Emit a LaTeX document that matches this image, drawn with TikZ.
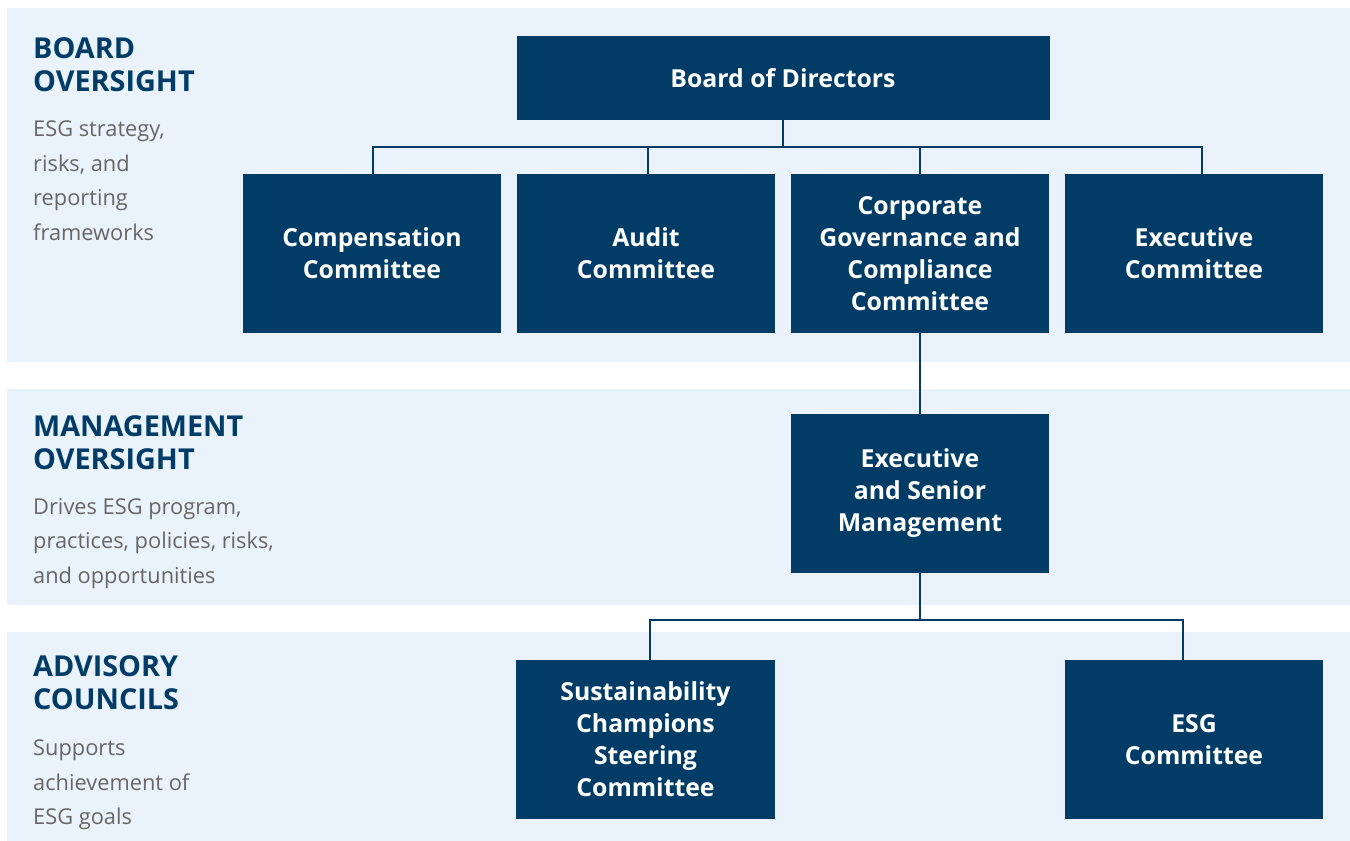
\documentclass[tikz,border=0pt]{standalone}
\usepackage{fontspec}
\setmainfont{Open Sans}
\definecolor{navy}{HTML}{003C66}
\definecolor{band}{HTML}{EAF3FB}
\definecolor{graytxt}{HTML}{666666}
\begin{document}
\begin{tikzpicture}[x=1pt,y=-1pt,
 box/.style={fill=navy, text=white, font=\bfseries\fontsize{24.8}{32}\selectfont, align=center, inner sep=0pt},
 conn/.style={draw=navy, line width=2.4pt},
 ttl/.style={text=navy, font=\bfseries\fontsize{28.8}{33}\selectfont, align=left, anchor=north west, inner sep=0pt},
 desc/.style={text=graytxt, font=\fontsize{21.8}{34.5}\selectfont, align=left, anchor=north west, inner sep=0pt}]
\useasboundingbox (0,0) rectangle (1350,841);
\fill[band] (7,8) rectangle (1350,362);
\fill[band] (7,389) rectangle (1350,605);
\fill[band] (7,632) rectangle (1350,841);
% section labels
\node[ttl] (t1) at (33,37) {BOARD\\OVERSIGHT};
\node[desc] (d1) at (33,121) {ESG strategy,\\risks, and\\reporting\\frameworks};
\node[ttl] (t2) at (33,415) {MANAGEMENT\\OVERSIGHT};
\node[desc] (d2) at (33,498) {Drives ESG program,\\practices, policies, risks,\\and opportunities};
\node[ttl] (t3) at (33,655) {ADVISORY\\COUNCILS};
\node[desc] (d3) at (33,740) {Supports\\achievement of\\ESG goals};
% boxes
\node[box, minimum width=533, minimum height=84] (bod) at (783,78) {Board of Directors};
\node[box, minimum width=258, minimum height=159] (comp) at (372,253.5) {Compensation\\Committee};
\node[box, minimum width=258, minimum height=159] (aud) at (646,253.5) {Audit\\Committee};
\node[box, minimum width=258, minimum height=159] (cgc) at (920,253.5) {Corporate\\Governance and\\Compliance\\Committee};
\node[box, minimum width=258, minimum height=159] (exc) at (1194,253.5) {Executive\\Committee};
\node[box, minimum width=258, minimum height=159] (esm) at (920,493.5) {Executive\\and Senior\\Management};
\node[box, minimum width=259, minimum height=159] (scs) at (645.5,739.5) {Sustainability\\Champions\\Steering\\Committee};
\node[box, minimum width=258, minimum height=159] (esg) at (1194,739.5) {ESG\\Committee};
% connectors
\draw[conn] (bod.south) -- ++(0,27) coordinate (bar1) -| ([xshift=1pt]comp.north);
\draw[conn] (bar1) -| ([xshift=2pt]aud.north);
\draw[conn] (bar1) -| (cgc.north);
\draw[conn] (bar1) -| ([xshift=8pt]exc.north);
\draw[conn] (cgc.south) -- (esm.north);
\draw[conn] (esm.south) -- ++(0,47) coordinate (bar2) -| ([xshift=4.5pt]scs.north);
\draw[conn] (bar2) -| ([xshift=-11pt]esg.north);
\end{tikzpicture}
\end{document}
